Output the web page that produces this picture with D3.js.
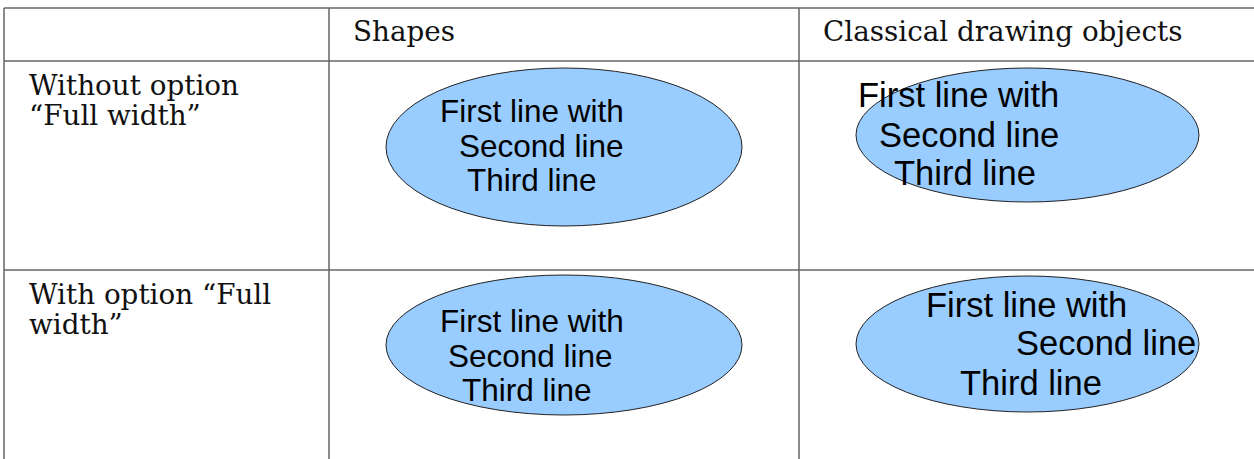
<!DOCTYPE html>
<html><head><meta charset="utf-8">
<script src="https://cdn.jsdelivr.net/npm/d3@7"></script>
<style>html,body{margin:0;padding:0;background:#fff;overflow:hidden}</style>
</head><body>
<svg id="c" width="1254" height="459"></svg>
<script>
// ---- data ----
const columns = ["", "Shapes", "Classical drawing objects"];
const rows = ["header", "Without option", "With option"];
const rowLabels = [["Without option", "“Full width”"], ["With option “Full", "width”"]];
const ellipseLines = ["First line with", "Second line", "Third line"];
const cellKeys = ["shapes-without", "classic-without", "shapes-with", "classic-with"];

// ---- layout ----
const svg = d3.select("#c");
const colEdges = [4, 329, 799, 1260];
const rowEdges = [8, 61, 270, 470];
const x = d3.scaleOrdinal().domain(columns).range(colEdges.slice(0, 3));
const y = d3.scaleOrdinal().domain(rows).range(rowEdges.slice(0, 3));

const lineColor = "#666";
svg.selectAll("line.h").data(rowEdges.slice(0, 3)).join("line")
  .attr("x1", 4).attr("x2", 1260).attr("y1", d => d).attr("y2", d => d)
  .attr("stroke", lineColor).attr("stroke-width", 1.5);
svg.selectAll("line.v").data(colEdges.slice(0, 3)).join("line")
  .attr("x1", d => d).attr("x2", d => d).attr("y1", 8).attr("y2", 470)
  .attr("stroke", lineColor).attr("stroke-width", 1.5);

const serif = "'DejaVu Serif', serif";
svg.selectAll("text.col").data(columns.slice(1)).join("text")
  .attr("x", d => x(d) + 24).attr("y", 41)
  .attr("font-family", serif).attr("font-size", 27.8).attr("fill", "#111")
  .text(d => d);
rowLabels.forEach((lines, i) => {
  const top = y(rows[i + 1]);
  svg.selectAll(null).data(lines).join("text")
    .attr("x", 29).attr("y", (d, j) => top + 34 + j * 30)
    .attr("font-family", serif).attr("font-size", 27.8).attr("fill", "#111")
    .text(d => d);
});

const cells = [
  {key: cellKeys[0], cx: 564, cy: 147, rx: 178, ry: 79, fs: 31.5,
   tx: [440, 459, 467], ty: [122, 157, 191]},
  {key: cellKeys[1], cx: 1027.5, cy: 135, rx: 171.5, ry: 67, fs: 34.5,
   tx: [858, 879, 894], ty: [107, 147, 185]},
  {key: cellKeys[2], cx: 564, cy: 345, rx: 178, ry: 70, fs: 31.5,
   tx: [440, 448, 462], ty: [332, 367, 401]},
  {key: cellKeys[3], cx: 1027.5, cy: 344, rx: 171.5, ry: 68, fs: 34.5,
   tx: [926, 1016, 960], ty: [317, 355, 395]}
];
const g = svg.selectAll("g.cell").data(cells).join("g");
g.append("ellipse")
  .attr("cx", d => d.cx).attr("cy", d => d.cy).attr("rx", d => d.rx).attr("ry", d => d.ry)
  .attr("fill", "#99ccff").attr("stroke", "#222").attr("stroke-width", 1);
g.each(function(d) {
  d3.select(this).selectAll("text").data(ellipseLines).join("text")
    .attr("x", (t, i) => d.tx[i]).attr("y", (t, i) => d.ty[i])
    .attr("font-family", "'Liberation Sans', Arial, sans-serif").attr("font-size", d.fs)
    .attr("fill", "#000").text(t => t);
});
</script>
</body></html>
